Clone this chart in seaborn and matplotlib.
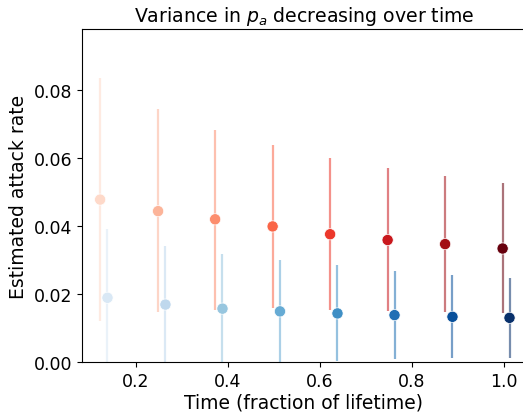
import numpy as np
import pandas as pd
import matplotlib
matplotlib.use("Agg")
import matplotlib.pyplot as plt
import seaborn as sns

# Data
red_x = [0.122, 0.248, 0.372, 0.497, 0.622, 0.747, 0.872, 0.997]
red_y = [0.0478, 0.0444, 0.0420, 0.0399, 0.0376, 0.0359, 0.0347, 0.0334]
red_lo = [0.0122, 0.0146, 0.0154, 0.0158, 0.0153, 0.0149, 0.0146, 0.0144]
red_hi = [0.0835, 0.0744, 0.0683, 0.0638, 0.0600, 0.0570, 0.0547, 0.0526]

blue_x = [0.138, 0.264, 0.388, 0.513, 0.638, 0.762, 0.888, 1.012]
blue_y = [0.0189, 0.0169, 0.0157, 0.0149, 0.0143, 0.0138, 0.0133, 0.0130]
blue_lo = [-0.004, -0.002, -0.0005, 0.0, 0.0004, 0.0009, 0.0012, 0.0012]
blue_hi = [0.0390, 0.0340, 0.0317, 0.0300, 0.0284, 0.0269, 0.0256, 0.0247]

xticks = [0.2, 0.4, 0.6, 0.8, 1.0]
yticks = [0.00, 0.02, 0.04, 0.06, 0.08]

reds = [plt.cm.Reds(v) for v in np.linspace(0.15, 1.0, len(red_x))]
blues = [plt.cm.Blues(v) for v in np.linspace(0.15, 1.0, len(blue_x))]

df_red = pd.DataFrame({"x": red_x, "y": red_y, "k": range(len(red_x))})
df_blue = pd.DataFrame({"x": blue_x, "y": blue_y, "k": range(len(blue_x))})

fig = plt.figure(figsize=(5.23, 4.14), dpi=100)
ax = fig.add_axes([0.1568, 0.1232, 0.8482, 0.8043])

for i in range(len(red_x)):
    ax.vlines(red_x[i], red_lo[i], red_hi[i], color=reds[i], alpha=0.55, lw=1.6, zorder=1)
    ax.vlines(blue_x[i], blue_lo[i], blue_hi[i], color=blues[i], alpha=0.55, lw=1.6, zorder=1)

sns.scatterplot(data=df_red, x="x", y="y", hue="k", palette=reds, s=65,
                edgecolor="white", linewidth=0.5, legend=False, ax=ax, zorder=3)
sns.scatterplot(data=df_blue, x="x", y="y", hue="k", palette=blues, s=65,
                edgecolor="white", linewidth=0.5, legend=False, ax=ax, zorder=3)

ax.set_xlim(0.0826, 1.047)
ax.set_ylim(0, 0.098)
ax.set_xticks(xticks)
ax.set_xticklabels([f"{t:.1f}" for t in xticks])
ax.set_yticks(yticks)
ax.set_yticklabels([f"{t:.2f}" for t in yticks])
ax.tick_params(labelsize=12.5)
ax.set_xlabel("Time (fraction of lifetime)", fontsize=13.5, labelpad=2)
ax.set_ylabel("Estimated attack rate", fontsize=13.5)
ax.set_title("Variance in $p_a$ decreasing over time", fontsize=13.6)

fig.savefig("out.png", dpi=100)
